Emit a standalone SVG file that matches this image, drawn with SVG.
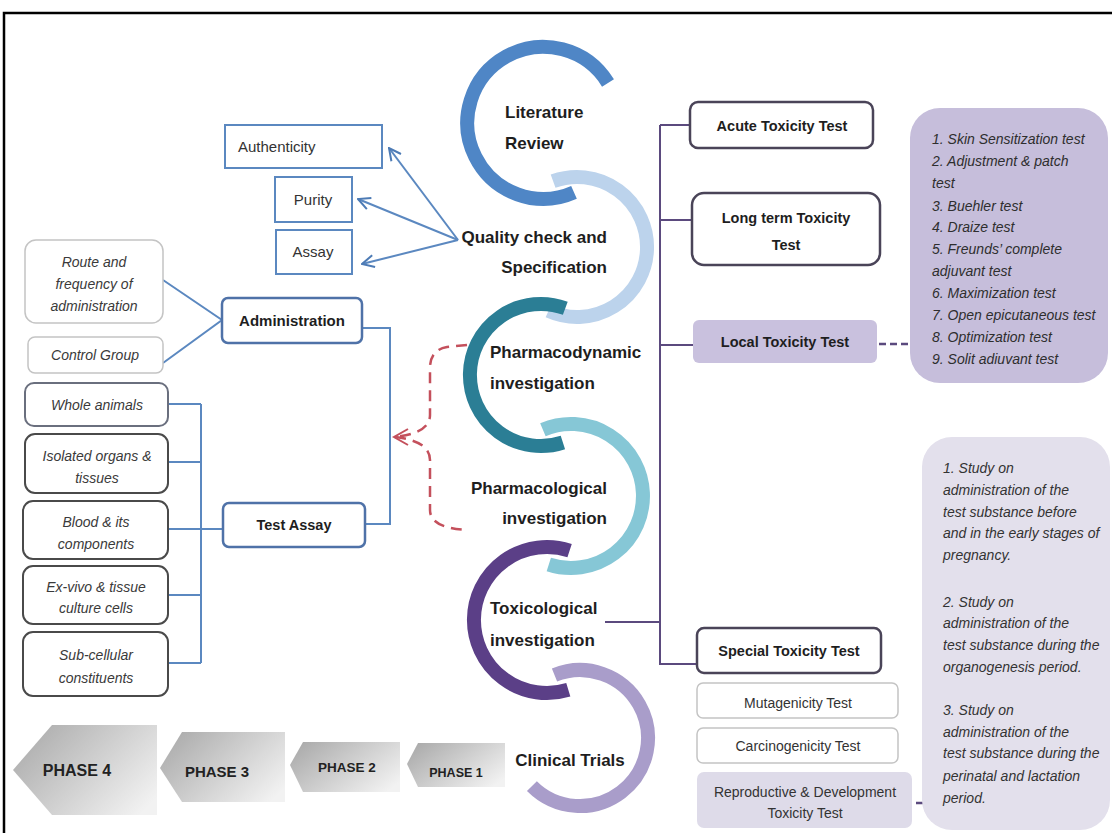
<svg xmlns="http://www.w3.org/2000/svg" width="1112" height="833" viewBox="0 0 1112 833">
<defs>
<style>
.arc{fill:none;stroke-width:14;stroke-linecap:butt}
.lbl{font-family:"Liberation Sans",Arial,sans-serif;font-weight:bold;font-size:17px;fill:#1e1e1e}
.reg{font-family:"Liberation Sans",Arial,sans-serif;font-size:15px;fill:#333}
.bold{font-family:"Liberation Sans",Arial,sans-serif;font-weight:bold;font-size:14.5px;fill:#1e1e1e}
.it{font-family:"Liberation Sans",Arial,sans-serif;font-style:italic;font-size:14px;fill:#3a3a3a}
.blu{fill:#fff;stroke:#5b88c0;stroke-width:2}
.blu2{fill:#fff;stroke:#4f72a8;stroke-width:2.5}
.gry{fill:#fff;stroke:#c4c4c4;stroke-width:1.5}
.dk{fill:#fff;stroke:#4a4a4a;stroke-width:2}
.pur{fill:#fff;stroke:#4a4458;stroke-width:2.5}
.bl{fill:none;stroke:#5b88c0;stroke-width:2}
.pl{fill:none;stroke:#5b4a7e;stroke-width:2}
.ph{font-family:"Liberation Sans",Arial,sans-serif;font-weight:bold;fill:#222}
</style>
<marker id="arrB" viewBox="0 0 14 14" markerWidth="14" markerHeight="14" refX="13" refY="7" orient="auto" markerUnits="userSpaceOnUse">
<path d="M1,1 L13,7 L1,13" fill="none" stroke="#4d7bb5" stroke-width="2"/>
</marker>
<linearGradient id="gph" x1="0" y1="0.2" x2="1" y2="0.8">
<stop offset="0" stop-color="#acacac"/>
<stop offset="1" stop-color="#f2f2f2"/>
</linearGradient>
</defs>
<rect x="0" y="0" width="1112" height="833" fill="#fff"/>
<path d="M4,833 L4,13 L1112,13" fill="none" stroke="#000" stroke-width="2.5"/>

<g id="connectors">
<line class="bl" x1="458" y1="240" x2="389" y2="148" marker-end="url(#arrB)"/>
<line class="bl" x1="458" y1="240" x2="358" y2="199" marker-end="url(#arrB)"/>
<line class="bl" x1="458" y1="240" x2="362" y2="264" marker-end="url(#arrB)"/>
<polyline class="bl" points="163,280 222,320 163,363"/>
<polyline class="bl" points="362,328 390,328 390,524 365,524"/>
<path class="bl" d="M168,404 H201 M168,462 H201 M168,529 H223 M168,595 H201 M168,663 H201 M201,404 V663"/>
<path d="M467,345 L447,347 Q430,350 430,368 L430,415 Q430,433 395,437 M395,437 Q430,441 430,460 L430,510 Q430,528 467,530" fill="none" stroke="#c4505c" stroke-width="2.5" stroke-dasharray="11,7"/>
<polyline points="408,429 394,437 408,445" fill="none" stroke="#c4505c" stroke-width="2"/>
<path class="pl" d="M605,622 H660 M660,125 V664 H697 M660,125 H690 M660,220 H692 M660,345 H693"/>
<line x1="879" y1="344" x2="910" y2="344" stroke="#5b4a7e" stroke-width="2.5" stroke-dasharray="7,4"/>
<line x1="905" y1="803" x2="935" y2="803" stroke="#5b4a7e" stroke-width="2.5" stroke-dasharray="7,4"/>
</g>

<g id="arc-literature">
<path class="arc" stroke="#4f86c6" d="M608,83 A76,76 0 1 0 574,192.4"/>
<text class="lbl" x="505" y="118">Literature</text>
<text class="lbl" x="505" y="149">Review</text>
</g>
<g id="arc-quality">
<path class="arc" stroke="#bcd3ec" d="M553.1,181.2 A70,70 0 1 1 548.5,310.9"/>
<text class="lbl" x="607" y="243" text-anchor="end">Quality check and</text>
<text class="lbl" x="607" y="273" text-anchor="end">Specification</text>
</g>
<g id="arc-pharmacodynamic">
<path class="arc" stroke="#2b7e95" d="M565.3,308.3 A71,71 0 1 0 562.9,442.5"/>
<text class="lbl" x="490" y="358">Pharmacodynamic</text>
<text class="lbl" x="490" y="389">investigation</text>
</g>
<g id="arc-pharmacological">
<path class="arc" stroke="#86c7d6" d="M542.9,429.7 A72,72 0 1 1 548.8,564.5"/>
<text class="lbl" x="607" y="494" text-anchor="end">Pharmacological</text>
<text class="lbl" x="607" y="524" text-anchor="end">investigation</text>
</g>
<g id="arc-toxicological">
<path class="arc" stroke="#5b3f87" d="M569.6,550.6 A73,73 0 1 0 568.3,689.8"/>
<text class="lbl" x="490" y="614">Toxicological</text>
<text class="lbl" x="490" y="646">investigation</text>
</g>
<g id="arc-clinical">
<path class="arc" stroke="#a99dca" d="M554.5,675 A68,68 0 1 1 531.9,786.1"/>
<text class="lbl" x="570" y="766" text-anchor="middle">Clinical Trials</text>
</g>

<g id="authenticity"><rect class="blu" x="225" y="125" width="157" height="43"/><text class="reg" x="238" y="152">Authenticity</text></g>
<g id="purity"><rect class="blu" x="275" y="177" width="77" height="45"/><text class="reg" x="313" y="205" text-anchor="middle">Purity</text></g>
<g id="assay"><rect class="blu" x="276" y="230" width="76" height="44"/><text class="reg" x="313" y="257" text-anchor="middle">Assay</text></g>

<g id="route"><rect class="gry" x="25" y="240" width="138" height="83" rx="11"/>
<text class="it" text-anchor="middle"><tspan x="94" y="267">Route and</tspan><tspan x="94" y="289">frequency of</tspan><tspan x="94" y="311">administration</tspan></text></g>
<g id="control"><rect class="gry" x="28" y="337" width="135" height="36" rx="7"/><text class="it" x="95" y="360" text-anchor="middle">Control Group</text></g>
<g id="administration"><rect class="blu2" x="222" y="298" width="140" height="45" rx="6"/><text class="bold" x="292" y="326" text-anchor="middle" style="font-size:15px">Administration</text></g>
<g id="test-assay"><rect class="blu2" x="223" y="503" width="142" height="44" rx="6"/><text class="bold" x="294" y="530" text-anchor="middle">Test Assay</text></g>

<g id="whole"><rect class="dk" x="25" y="383" width="143" height="43" rx="9" style="stroke:#6a6f7e"/><text class="it" x="97" y="410" text-anchor="middle">Whole animals</text></g>
<g id="isolated"><rect class="dk" x="25" y="434" width="143" height="59" rx="10"/><text class="it" text-anchor="middle"><tspan x="97" y="461">Isolated organs &amp;</tspan><tspan x="97" y="483">tissues</tspan></text></g>
<g id="blood"><rect class="dk" x="23" y="501" width="145" height="58" rx="10"/><text class="it" text-anchor="middle"><tspan x="96" y="527">Blood &amp; its</tspan><tspan x="96" y="549">components</tspan></text></g>
<g id="exvivo"><rect class="dk" x="23" y="566" width="145" height="58" rx="10"/><text class="it" text-anchor="middle"><tspan x="96" y="592">Ex-vivo &amp; tissue</tspan><tspan x="96" y="613">culture cells</tspan></text></g>
<g id="subcellular"><rect class="dk" x="23" y="632" width="145" height="64" rx="10"/><text class="it" text-anchor="middle"><tspan x="96" y="660">Sub-cellular</tspan><tspan x="96" y="683">constituents</tspan></text></g>

<g id="acute"><rect class="pur" x="690" y="102" width="183" height="46" rx="8"/><text class="bold" x="782" y="131" text-anchor="middle">Acute Toxicity Test</text></g>
<g id="longterm"><rect class="pur" x="692" y="193" width="188" height="72" rx="12"/><text class="bold" text-anchor="middle"><tspan x="786" y="223">Long term Toxicity</tspan><tspan x="786" y="250">Test</tspan></text></g>
<g id="local"><rect x="693" y="320" width="184" height="43" rx="6" fill="#c9c1de"/><text class="bold" x="785" y="347" text-anchor="middle">Local Toxicity Test</text></g>
<g id="local-list"><rect x="910" y="108" width="198" height="275" rx="30" fill="#c6bedb"/>
<text class="it" style="fill:#2e2e2e"><tspan x="932" y="144">1. Skin Sensitization test</tspan><tspan x="932" y="166">2. Adjustment &amp; patch</tspan><tspan x="932" y="188">test</tspan><tspan x="932" y="211">3. Buehler test</tspan><tspan x="932" y="232">4. Draize test</tspan><tspan x="932" y="254">5. Freunds’ complete</tspan><tspan x="932" y="276">adjuvant test</tspan><tspan x="932" y="298">6. Maximization test</tspan><tspan x="932" y="320">7. Open epicutaneous test</tspan><tspan x="932" y="342">8. Optimization test</tspan><tspan x="932" y="364">9. Solit adiuvant test</tspan></text></g>

<g id="special"><rect class="pur" x="697" y="628" width="184" height="45" rx="7"/><text class="bold" x="789" y="656" text-anchor="middle">Special Toxicity Test</text></g>
<g id="mutagenicity"><rect class="gry" x="697" y="683" width="201" height="35" rx="6"/><text class="reg" x="798" y="708" text-anchor="middle" style="font-size:14px">Mutagenicity Test</text></g>
<g id="carcinogenicity"><rect class="gry" x="697" y="728" width="201" height="35" rx="6"/><text class="reg" x="798" y="751" text-anchor="middle" style="font-size:14px">Carcinogenicity Test</text></g>
<g id="reproductive"><rect x="697" y="772" width="215" height="56" rx="7" fill="#dedbe9"/><text class="reg" text-anchor="middle" style="font-size:14px"><tspan x="805" y="797">Reproductive &amp; Development</tspan><tspan x="805" y="818">Toxicity Test</tspan></text></g>
<g id="repro-list"><rect x="922" y="437" width="188" height="393" rx="30" fill="#e3e0ec"/>
<text class="it" style="fill:#333"><tspan x="943" y="473">1. Study on</tspan><tspan x="943" y="495">administration of the</tspan><tspan x="943" y="517">test substance before</tspan><tspan x="943" y="538">and in the early stages of</tspan><tspan x="943" y="560">pregnancy.</tspan><tspan x="943" y="607">2. Study on</tspan><tspan x="943" y="628">administration of the</tspan><tspan x="943" y="650">test substance during the</tspan><tspan x="943" y="672">organogenesis period.</tspan><tspan x="943" y="715">3. Study on</tspan><tspan x="943" y="737">administration of the</tspan><tspan x="943" y="758">test substance during the</tspan><tspan x="943" y="781">perinatal and lactation</tspan><tspan x="943" y="803">period.</tspan></text></g>

<g id="phase4"><polygon points="13,770 52,725 157,725 157,815 52,815" fill="url(#gph)"/><text class="ph" x="77" y="776" text-anchor="middle" style="font-size:16px">PHASE 4</text></g>
<g id="phase3"><polygon points="160,768 182,732 285,732 285,802 182,802" fill="url(#gph)"/><text class="ph" x="217" y="777" text-anchor="middle" style="font-size:15px">PHASE 3</text></g>
<g id="phase2"><polygon points="290,765 303,742 400,742 400,792 303,792" fill="url(#gph)"/><text class="ph" x="347" y="772" text-anchor="middle" style="font-size:13.5px">PHASE 2</text></g>
<g id="phase1"><polygon points="407,764 418,743 505,743 505,787 418,787" fill="url(#gph)"/><text class="ph" x="456" y="777" text-anchor="middle" style="font-size:12.5px">PHASE 1</text></g>
</svg>
